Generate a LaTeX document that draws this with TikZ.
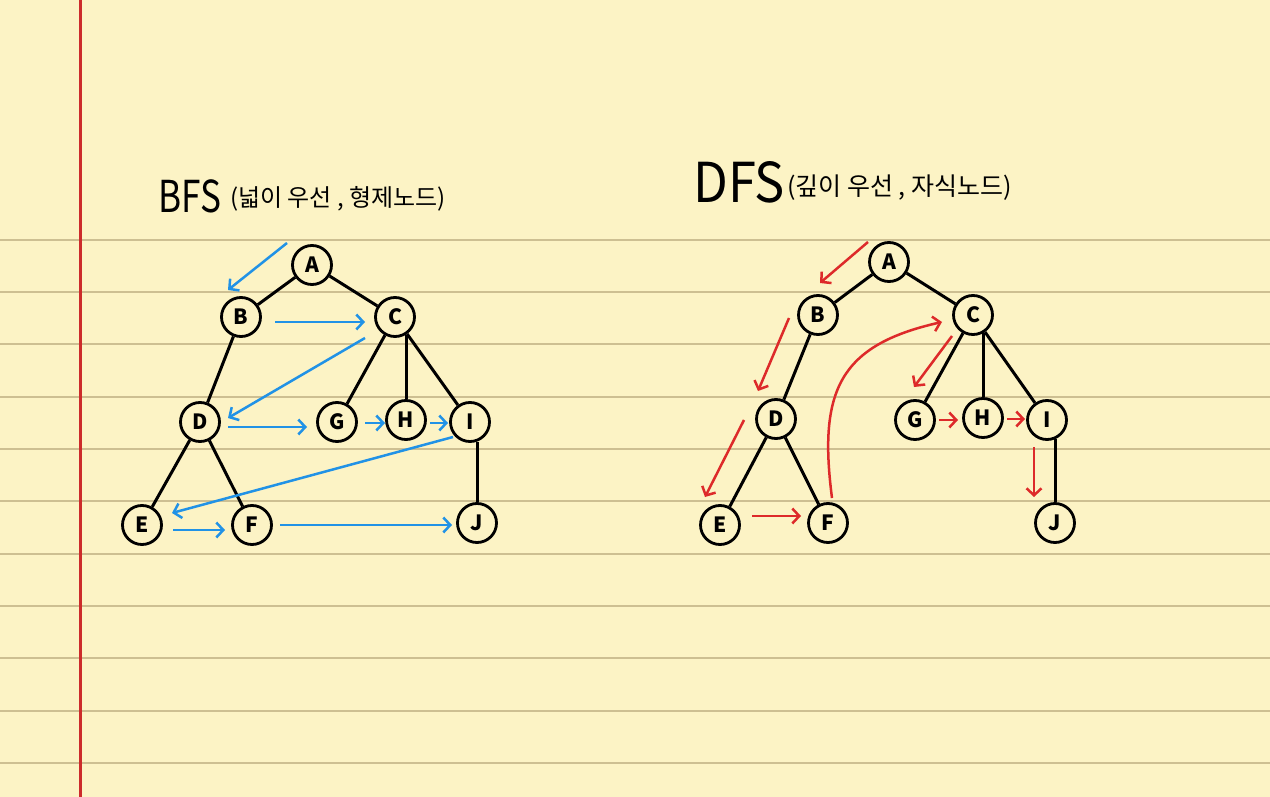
\documentclass[tikz,border=0pt]{standalone}
\usepackage{fontspec}
\setmainfont{Noto Sans CJK KR}
\newfontfamily\cjk{Noto Sans CJK KR}
\usetikzlibrary{arrows.meta}
\definecolor{paper}{HTML}{FCF3C5}
\definecolor{rulecol}{HTML}{CDBF92}
\definecolor{margincol}{HTML}{CC2B2B}
\definecolor{bfsblue}{HTML}{2192E6}
\definecolor{dfsred}{HTML}{DD2A2A}
\begin{document}
\begin{tikzpicture}[x=1pt,y=-1pt,
  vert/.style={circle,draw=black,line width=2.8pt,fill=paper,minimum size=39pt,inner sep=0pt,font=\fontsize{21}{21}\selectfont\bfseries},
  edge/.style={line width=3pt,black},
  bfsarrow/.style={line width=2.5pt,bfsblue,-{Straight Barb[length=7pt,width=15pt]}},
  dfsarrow/.style={line width=2.5pt,dfsred,-{Straight Barb[length=7pt,width=15pt]}},
  titlebox/.style={anchor=base west,inner sep=0pt}]
% paper
\fill[paper] (0,0) rectangle (1270,797);
\useasboundingbox (0,0) rectangle (1270,797);
\foreach \k in {0,...,10} {
  \draw[rulecol,line width=2pt] (0,239.5+52.36*\k) -- (1270,239.5+52.36*\k);
}
\draw[margincol,line width=3pt] (80,0) -- (80,797);

% titles
\node[titlebox] (bfst) at (158,213) {\fontsize{44}{44}\selectfont\scalebox{0.8}[1]{BFS}};
\node[titlebox] (bfsk) at (230,207) {\cjk\fontsize{24}{24}\selectfont (넓이 우선 , 형제노드)};
\node[titlebox] (dfst) at (693,203) {\fontsize{55}{55}\selectfont\scalebox{0.92}[1]{DFS}};
\node[titlebox] (dfsk) at (787,196) {\cjk\fontsize{25}{25}\selectfont (깊이 우선 , 자식노드)};

% BFS tree
\node[vert] (bA) at (312,265) {A};
\node[vert] (bB) at (241,317) {B};
\node[vert] (bC) at (395,317) {C};
\node[vert] (bD) at (200,422) {D};
\node[vert] (bG) at (337,422) {G};
\node[vert] (bH) at (406,420) {H};
\node[vert] (bI) at (470,422) {I};
\node[vert] (bE) at (142,525) {E};
\node[vert] (bF) at (252,525) {F};
\node[vert] (bJ) at (477,523) {J};
\draw[edge] (bA) -- (bB);
\draw[edge] (bA) -- (bC);
\draw[edge] (bB) -- (bD);
\draw[edge] (bC) -- (bG);
\draw[edge] (bC.-58) -- (bC.-58 |- bH.north);
\draw[edge] (bC) -- (bI);
\draw[edge] (bD) -- (bE);
\draw[edge] (bD) -- (bF);
\draw[edge] (bJ.north) -- (bJ.north |- bI.-70);

\coordinate (s1) at (287,243);
\draw[bfsarrow] (s1) -- ([shift={(-13,-27)}]bB.center);
\draw[bfsarrow] ([shift={(34,5)}]bB.center) -- ([shift={(-30,5)}]bC.center);
\draw[bfsarrow] ([shift={(-30,21)}]bC.center) -- ([shift={(28,-4)}]bD.center);
\draw[bfsarrow] ([shift={(28,5)}]bD.center) -- ([shift={(-30,5)}]bG.center);
\draw[bfsarrow] ([shift={(28,1)}]bG.center) -- ([shift={(-21,3)}]bH.center);
\draw[bfsarrow] ([shift={(24,3)}]bH.center) -- ([shift={(-22,1)}]bI.center);
\draw[bfsarrow] ([shift={(-17,15)}]bI.center) -- ([shift={(30,-12)}]bE.center);
\draw[bfsarrow] ([shift={(31,5)}]bE.center) -- ([shift={(-27,5)}]bF.center);
\draw[bfsarrow] ([shift={(28,0)}]bF.center) -- ([shift={(-25,2)}]bJ.center);

% DFS tree
\node[vert] (dA) at (889,262) {A};
\node[vert] (dB) at (818,315) {B};
\node[vert] (dC) at (973,315) {C};
\node[vert] (dD) at (776,419) {D};
\node[vert] (dG) at (915,420) {G};
\node[vert] (dH) at (983,418) {H};
\node[vert] (dI) at (1047,420) {I};
\node[vert] (dE) at (720,525) {E};
\node[vert] (dF) at (828,523) {F};
\node[vert] (dJ) at (1055,523) {J};
\draw[edge] (dA) -- (dB);
\draw[edge] (dA) -- (dC);
\draw[edge] (dB) -- (dD);
\draw[edge] (dC) -- (dG);
\draw[edge] (dC.-61) -- (dC.-61 |- dH.north);
\draw[edge] (dC) -- (dI);
\draw[edge] (dD) -- (dE);
\draw[edge] (dD) -- (dF);
\draw[edge] (dJ.north) -- (dJ.north |- dI.-67);

\coordinate (s2) at (868,242);
\draw[dfsarrow] (s2) -- ([shift={(2,-32)}]dB.center);
\draw[dfsarrow] ([shift={(-29,3)}]dB.center) -- ([shift={(-18,-28)}]dD.center);
\draw[dfsarrow] ([shift={(-32,1)}]dD.center) -- ([shift={(-15,-28)}]dE.center);
\draw[dfsarrow] ([shift={(32,-9)}]dE.center) -- ([shift={(-27,-7)}]dF.center);
\draw[dfsarrow] ([shift={(4,-25)}]dF.center) .. controls (818,390) and (840,345) .. ([shift={(-31,7)}]dC.center);
\draw[dfsarrow] ([shift={(-21,21)}]dC.center) -- ([shift={(-1,-33)}]dG.center);
\draw[dfsarrow] ([shift={(24,0)}]dG.center) -- ([shift={(-25,2)}]dH.center);
\draw[dfsarrow] ([shift={(24,1)}]dH.center) -- ([shift={(-22,-1)}]dI.center);
\draw[dfsarrow] ([shift={(-13,27)}]dI.center) -- ([shift={(-21,-26)}]dJ.center);
\end{tikzpicture}
\end{document}
